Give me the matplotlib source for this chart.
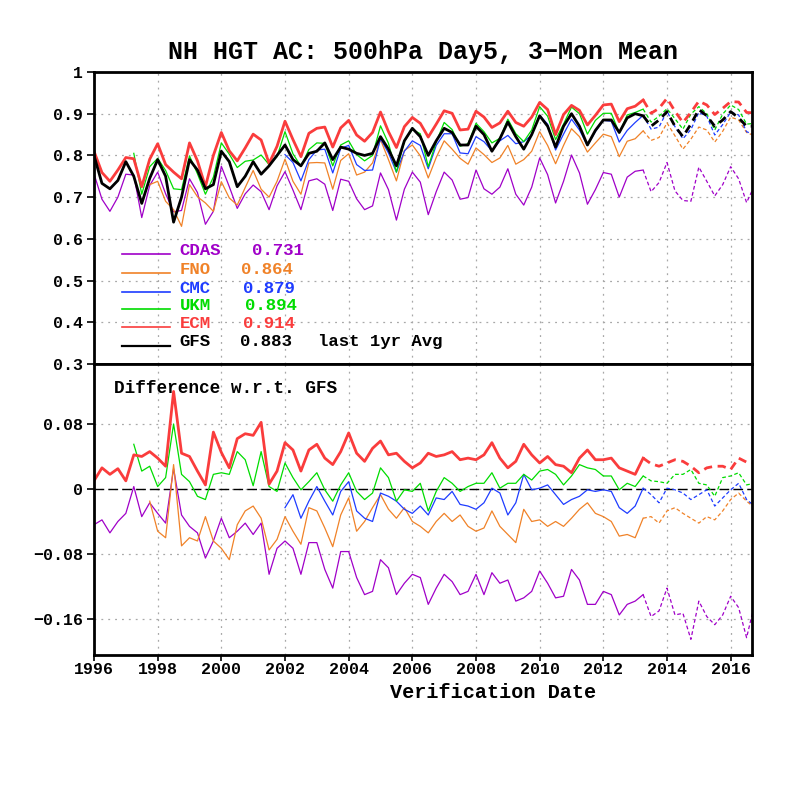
import numpy as np
import matplotlib
matplotlib.use("Agg")
import matplotlib.pyplot as plt

nan = np.nan

# ---------------- data (quarterly samples starting 1996.0) ----------------
start_year = 1996.0
step_years = 0.25

# GFS anomaly correlation (top panel)
gfs = [
    0.800, 0.733, 0.720, 0.740, 0.785, 0.750, 0.685, 0.745, 0.790, 0.750,
    0.640, 0.700, 0.790, 0.765, 0.720, 0.730, 0.810, 0.785, 0.725, 0.750,
    0.785, 0.755, 0.775, 0.800, 0.825, 0.790, 0.775, 0.805,
    0.810, 0.830, 0.790, 0.820, 0.815, 0.805, 0.800, 0.805, 0.845, 0.815,
    0.775, 0.835, 0.865, 0.845, 0.800, 0.835, 0.865, 0.855, 0.825, 0.825,
    0.870, 0.850, 0.810, 0.840, 0.880, 0.845, 0.815, 0.850,
    0.895, 0.870, 0.820, 0.870, 0.900, 0.870, 0.825, 0.860, 0.885, 0.885,
    0.855, 0.890, 0.900, 0.895, 0.870, 0.885, 0.905, 0.870, 0.845, 0.875,
    0.910, 0.895, 0.870, 0.885, 0.905, 0.890, 0.870, 0.870,
]

# differences w.r.t. GFS (bottom panel)
d_ecm = [
    0.010, 0.026, 0.018, 0.025, 0.010, 0.042, 0.040, 0.046, 0.038, 0.028,
    0.120, 0.044, 0.040, 0.022, 0.005, 0.070, 0.045, 0.026, 0.062, 0.068,
    0.066, 0.082, 0.006, 0.022, 0.057, 0.048, 0.022, 0.048,
    0.055, 0.038, 0.030, 0.046, 0.069, 0.044, 0.034, 0.050, 0.059, 0.042,
    0.044, 0.034, 0.026, 0.032, 0.044, 0.040, 0.042, 0.046, 0.036, 0.038,
    0.036, 0.042, 0.057, 0.038, 0.026, 0.034, 0.055, 0.042,
    0.032, 0.040, 0.030, 0.028, 0.020, 0.038, 0.048, 0.036, 0.036, 0.038,
    0.026, 0.022, 0.018, 0.038, 0.031, 0.028, 0.032, 0.036, 0.034, 0.028,
    0.020, 0.026, 0.028, 0.028, 0.024, 0.038, 0.033, 0.032,
]
d_ukm = [
    nan, nan, nan, nan, nan, 0.055, 0.022, 0.028, 0.003, 0.014,
    0.080, 0.018, 0.009, -0.009, -0.013, 0.018, 0.020, 0.018, 0.046, 0.036,
    0.004, 0.046, 0.003, -0.003, 0.032, 0.014, -0.001, 0.009,
    0.020, -0.001, -0.015, 0.005, 0.020, -0.003, -0.013, -0.005, 0.026, 0.014,
    -0.015, -0.001, -0.003, 0.007, -0.027, -0.003, 0.014, 0.007, -0.003, 0.003,
    0.007, 0.007, 0.020, 0.001, 0.007, 0.007, 0.018, 0.011,
    0.022, 0.024, 0.018, 0.005, 0.016, 0.030, 0.026, 0.024, 0.016, 0.016,
    -0.001, 0.007, 0.003, 0.016, 0.010, 0.009, 0.007, 0.018, 0.018, 0.024,
    0.007, 0.005, -0.009, 0.014, 0.016, 0.020, 0.005, 0.007,
]
d_cmc = [
    nan, nan, nan, nan, nan, nan, nan, nan, nan, nan,
    nan, nan, nan, nan, nan, nan, nan, nan, nan, nan,
    nan, nan, nan, nan, -0.023, -0.007, -0.036, -0.015,
    0.003, -0.015, -0.032, -0.003, 0.009, -0.027, -0.036, -0.040, -0.005, -0.009,
    -0.015, -0.025, -0.030, -0.021, -0.032, -0.011, -0.013, -0.003, -0.019, -0.021,
    -0.025, -0.017, 0.001, -0.005, -0.032, -0.017, 0.018, -0.001,
    0.001, 0.005, -0.007, -0.019, -0.013, -0.009, -0.001, -0.003, -0.001, -0.003,
    -0.023, -0.030, -0.021, 0.001, -0.007, -0.017, 0.001, -0.001, -0.005, -0.013,
    -0.007, -0.001, -0.021, -0.011, -0.001, 0.007, -0.013, -0.021,
]
d_fno = [
    nan, nan, nan, nan, nan, nan, nan, -0.015, -0.052, -0.060,
    0.030, -0.070, -0.060, -0.064, -0.034, -0.064, -0.073, -0.087, -0.044, -0.027,
    -0.021, -0.036, -0.075, -0.062, -0.034, -0.052, -0.068, -0.023,
    -0.027, -0.048, -0.071, -0.032, -0.011, -0.052, -0.040, -0.023, -0.007, -0.025,
    -0.036, -0.023, -0.040, -0.046, -0.054, -0.040, -0.030, -0.040, -0.032, -0.046,
    -0.052, -0.048, -0.027, -0.046, -0.056, -0.066, -0.025, -0.040,
    -0.038, -0.046, -0.040, -0.046, -0.036, -0.025, -0.017, -0.030, -0.034, -0.040,
    -0.058, -0.056, -0.060, -0.036, -0.034, -0.042, -0.027, -0.023, -0.030, -0.036,
    -0.042, -0.034, -0.038, -0.027, -0.013, -0.005, -0.015, -0.023,
]
d_cdas = [
    -0.044, -0.038, -0.054, -0.040, -0.030, 0.003, -0.034, -0.017, -0.030, -0.042,
    0.025, -0.032, -0.046, -0.054, -0.085, -0.064, -0.036, -0.060, -0.052, -0.042,
    -0.056, -0.042, -0.105, -0.073, -0.064, -0.073, -0.105, -0.066,
    -0.066, -0.099, -0.122, -0.077, -0.077, -0.109, -0.130, -0.126, -0.087, -0.097,
    -0.130, -0.116, -0.105, -0.109, -0.142, -0.122, -0.105, -0.114, -0.130, -0.126,
    -0.105, -0.130, -0.103, -0.116, -0.112, -0.138, -0.134, -0.126,
    -0.101, -0.116, -0.134, -0.132, -0.099, -0.112, -0.142, -0.142, -0.126, -0.130,
    -0.155, -0.142, -0.138, -0.130, -0.157, -0.150, -0.122, -0.155, -0.153, -0.185,
    -0.138, -0.157, -0.167, -0.155, -0.132, -0.146, -0.183, -0.142,
]

models = ["CDAS", "FNO", "CMC", "UKM", "ECM"]
last_year_avg = ["0.731", "0.864", "0.879", "0.894", "0.914"]
gfs_avg = "0.883"
x_ticks = [1996, 1998, 2000, 2002, 2004, 2006, 2008, 2010, 2012, 2014, 2016]
top_ticks = [0.3, 0.4, 0.5, 0.6, 0.7, 0.8, 0.9, 1.0]
top_ticklabels = ["0.3", "0.4", "0.5", "0.6", "0.7", "0.8", "0.9", "1"]
bot_ticks = [-0.16, -0.08, 0.0, 0.08]
bot_ticklabels = ["\u22120.16", "\u22120.08", "0", "0.08"]

# ---------------- styling ----------------
colors = {"CDAS": "#a000c8", "FNO": "#f08228", "CMC": "#1e3cff",
          "UKM": "#00dc00", "ECM": "#fa3c3c", "GFS": "#000000"}
widths = {"CDAS": 0.9, "FNO": 0.9, "CMC": 0.9, "UKM": 0.9, "ECM": 2.0, "GFS": 2.0}
FONT = ["Liberation Mono", "DejaVu Sans Mono"]
plt.rcParams["font.family"] = FONT
plt.rcParams["font.weight"] = "bold"

gfs_a = np.array(gfs)
t = start_year + step_years * np.arange(len(gfs_a))
diffs = {"CDAS": np.array(d_cdas), "FNO": np.array(d_fno), "CMC": np.array(d_cmc),
         "UKM": np.array(d_ukm), "ECM": np.array(d_ecm)}
SOLID_END = 69  # last sample of the solid (old) record; dashed continues

fig = plt.figure(figsize=(8, 8), dpi=100)
ax1 = fig.add_axes([0.1175, 0.545, 0.8225, 0.365])
ax2 = fig.add_axes([0.1175, 0.18125, 0.8225, 0.36375])

dash = (0, (3, 2))


def draw(ax, y, name):
    c = colors[name]
    lw = widths[name]
    ax.plot(t[:SOLID_END + 1], y[:SOLID_END + 1], color=c, lw=lw)
    ax.plot(t[SOLID_END:], y[SOLID_END:], color=c, lw=lw, linestyle=dash)


for name in models:
    draw(ax1, gfs_a + diffs[name], name)
draw(ax1, gfs_a, "GFS")

ax2.axhline(0.0, color="black", lw=1.0, linestyle=(0, (7, 3)), zorder=1)
for name in models:
    draw(ax2, diffs[name], name)

grid_kw = dict(color="#a8a8a8", lw=0.9, linestyle=(0, (1.5, 4)))
for ax in (ax1, ax2):
    ax.set_xlim(1996, 2016.67)
    ax.set_xticks(x_ticks)
    ax.grid(True, **grid_kw)
    ax.set_axisbelow(True)
    for sp in ax.spines.values():
        sp.set_linewidth(2.0)
    ax.tick_params(axis="y", direction="out", length=5, width=1.2,
                   labelsize=12, pad=3)
    ax.tick_params(axis="x", direction="out", length=4, width=1.2,
                   labelsize=12, pad=1)

ax1.set_ylim(0.3, 1.0)
ax1.set_yticks(top_ticks)
ax1.set_yticklabels(top_ticklabels, fontweight="bold")
ax1.tick_params(axis="x", bottom=False, labelbottom=False)

ax2.set_ylim(-0.2043, 0.1538)
ax2.set_yticks(bot_ticks)
ax2.set_yticklabels(bot_ticklabels, fontweight="bold")
ax2.set_xticklabels([str(v) for v in x_ticks], fontweight="bold")

# legend drawn as text rows in the top panel
row_y = [0.387, 0.322, 0.260, 0.199, 0.137]
val_x = [0.240, 0.224, 0.226, 0.229, 0.226]
for name, val, yy, vx in zip(models, last_year_avg, row_y, val_x):
    ax1.plot([0.043, 0.115], [yy - 0.012, yy - 0.012], transform=ax1.transAxes,
             color=colors[name], lw=1.2)
    ax1.text(0.130, yy, name, transform=ax1.transAxes, color=colors[name],
             fontsize=12.5, fontweight="bold", va="center", ha="left")
    ax1.text(vx, yy, val, transform=ax1.transAxes, color=colors[name],
             fontsize=12.5, fontweight="bold", va="center", ha="left")
yy = 0.076
ax1.plot([0.043, 0.115], [yy - 0.013, yy - 0.013], transform=ax1.transAxes,
         color="black", lw=1.6)
ax1.text(0.130, yy, "GFS", transform=ax1.transAxes, color="black",
         fontsize=12.5, fontweight="bold", va="center", ha="left")
ax1.text(0.222, yy, gfs_avg, transform=ax1.transAxes, color="black",
         fontsize=12.5, fontweight="bold", va="center", ha="left")
ax1.text(0.340, yy, "last 1yr Avg", transform=ax1.transAxes, color="black",
         fontsize=12.5, fontweight="bold", va="center", ha="left")

ax2.text(0.030, 0.917, "Difference w.r.t. GFS", transform=ax2.transAxes,
         fontsize=12.8, fontweight="bold", va="center", ha="left")

fig.text(0.529, 0.935, "NH HGT AC: 500hPa Day5, 3\u2212Mon Mean", ha="center",
         va="center", fontsize=18, fontweight="bold")
fig.text(0.616, 0.134, "Verification Date", ha="center", va="center",
         fontsize=14.5, fontweight="bold")

fig.savefig("out.png", dpi=100, facecolor="white")
